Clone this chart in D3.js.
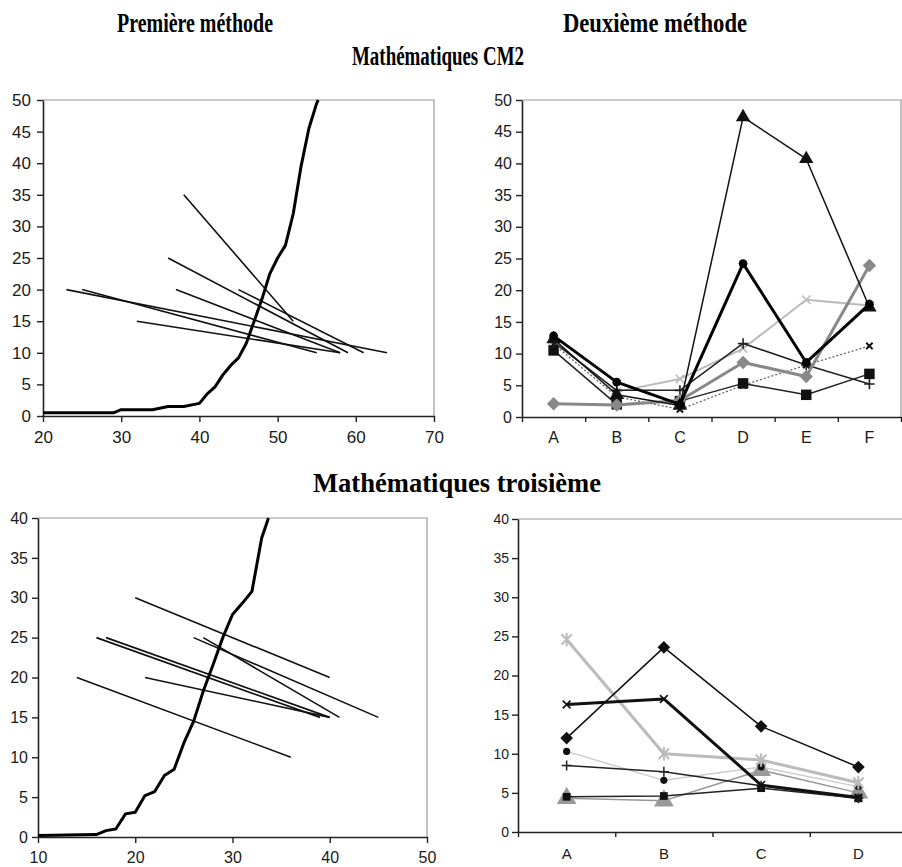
<!DOCTYPE html>
<html>
<head>
<meta charset="utf-8">
<script src="https://cdn.jsdelivr.net/npm/d3@7"></script>
<style>
  body { margin: 0; background: #fff; }
  .tick text { font-family: "Liberation Sans", Arial, sans-serif; fill: #1a1a1a; }
  .title { font-family: "Liberation Serif", "Times New Roman", serif; font-weight: bold; fill: #000; }
</style>
</head>
<body>
<script>
// ---- data ----
// top left: cumulative curve + regression segments (CM2)
var cm2Curve = [[20,0.5],[29,0.5],[30,1],[34,1],[36,1.5],[38,1.5],[40,2],[41,3.5],[42,4.6],[43,6.5],[44,8],[45,9.2],
  [46,11.5],[47,15],[48,18.5],[49,22.5],[50,25],[51,27],[52,32],[53,39.5],[54,45.5],[55,49.5],[55.2,50]];
var cm2Segments = [[38,35,52,15],[36,25,59,10],[37,20,58,10],[45,20,61,10],[23,20,64,10],[25,20,55,10],[32,15,58,10]];
var cm2XTicks = [20,30,40,50,60,70];
var cm2YTicks = [0,5,10,15,20,25,30,35,40,45,50];

// top right: series per category (CM2)
var cm2Cats = ['A','B','C','D','E','F'];
var cm2Triangle = [12.3, 3.5, 1.8, 47.3, 40.7, 17.3];
var cm2Circle   = [12.8, 5.5, 2.0, 24.2, 8.6, 17.8];
var cm2LightX   = [12.0, 4.0, 6.0, 10.8, 18.5, 17.6];
var cm2Plus     = [11.8, 4.2, 4.2, 11.6, 8.2, 5.2];
var cm2Diamond  = [2.1, 1.9, 2.6, 8.6, 6.4, 23.9];
var cm2Square   = [10.5, 2.0, 2.5, 5.3, 3.5, 6.8];
var cm2Dotted   = [11.5, 3.2, 1.2, 5.0, 8.2, 11.2];

// bottom left: cumulative curve + segments (troisième)
var troisCurve = [[10,0.2],[16,0.3],[17,0.8],[18,1],[19,2.9],[20,3.1],[21,5.2],[22,5.7],[23,7.7],[24,8.5],[25,11.8],
  [26,14.5],[27,18.3],[28,21.6],[29,25],[30,27.9],[31,29.3],[32,30.8],[33,37.5],[33.7,40]];
var troisSegments = [[20,30,40,20],[16,25,39,15],[17,25,40,15],[26,25,45,15],[27,25,41,15],[21,20,40,15],[14,20,36,10]];
var troisXTicks = [10,20,30,40,50];
var troisYTicks = [0,5,10,15,20,25,30,35,40];

// bottom right: series per category (troisième)
var troisCats = ['A','B','C','D'];
var troisDiamond  = [12.0, 23.6, 13.5, 8.3];
var troisX        = [16.3, 17.0, 6.0, 4.4];
var troisAsterisk = [24.6, 10.0, 9.2, 6.3];
var troisDot      = [10.3, 6.6, 8.3, 5.8];
var troisPlus     = [8.5, 7.7, 5.9, 4.3];
var troisSquare   = [4.5, 4.6, 5.6, 4.3];
var troisTriangle = [4.3, 4.0, 7.9, 5.0];

// marker shapes
var symPlus = { draw: function (c, s) { var r = Math.sqrt(s) / 2; c.moveTo(-r, 0); c.lineTo(r, 0); c.moveTo(0, -r); c.lineTo(0, r); } };
var symX = { draw: function (c, s) { var r = Math.sqrt(s) / 2; c.moveTo(-r, -r); c.lineTo(r, r); c.moveTo(-r, r); c.lineTo(r, -r); } };
var symAst = { draw: function (c, s) { var r = Math.sqrt(s) / 2; c.moveTo(-r, -r); c.lineTo(r, r); c.moveTo(-r, r); c.lineTo(r, -r); c.moveTo(0, -r * 1.3); c.lineTo(0, r * 1.3); } };
var symDia = { draw: function (c, s) { var r = Math.sqrt(s / 2); c.moveTo(0, -r); c.lineTo(r, 0); c.lineTo(0, r); c.lineTo(-r, 0); c.closePath(); } };

const svg = d3.select('body').append('svg').attr('width', 902).attr('height', 867);

// titles
function title(txt, x, y, len) {
  svg.append('text').attr('class', 'title').attr('x', x).attr('y', y)
    .attr('font-size', 27).attr('textLength', len).attr('lengthAdjust', 'spacingAndGlyphs').text(txt);
}
title('Première méthode', 117, 32, 156);
title('Deuxième méthode', 563, 32, 184);
title('Mathématiques CM2', 352, 65, 172);
title('Mathématiques troisième', 313, 492, 288);

function frame(xr, yr) {
  svg.append('path')
    .attr('d', 'M' + xr[0] + ',' + yr[1] + 'H' + xr[1] + 'V' + yr[0])
    .attr('fill', 'none').attr('stroke', '#999').attr('stroke-width', 1.2);
}

function styleAxis(g, fs) {
  g.select('.domain').attr('stroke', '#222').attr('stroke-width', 1.6);
  g.selectAll('.tick line').attr('stroke', '#222').attr('stroke-width', 1.4);
  g.selectAll('.tick text').attr('font-size', fs);
}

function linePanel(o) {
  const x = d3.scaleLinear().domain(o.xd).range(o.xr);
  const y = d3.scaleLinear().domain(o.yd).range(o.yr);
  frame(o.xr, o.yr);
  const gy = svg.append('g').attr('transform', 'translate(' + o.xr[0] + ',0)')
    .call(d3.axisLeft(y).tickValues(o.yt).tickSize(6).tickSizeOuter(0).tickPadding(o.ypad));
  styleAxis(gy, o.fs);
  const gx = svg.append('g').attr('transform', 'translate(0,' + o.yr[0] + ')')
    .call(d3.axisBottom(x).tickValues(o.xt).tickSize(6).tickSizeOuter(0).tickPadding(o.xpad));
  styleAxis(gx, o.fs);

  svg.append('g').selectAll('line').data(o.segs).enter().append('line')
    .attr('x1', d => x(d[0])).attr('y1', d => y(d[1]))
    .attr('x2', d => x(d[2])).attr('y2', d => y(d[3]))
    .attr('stroke', '#111').attr('stroke-width', 1.6);

  svg.append('path').datum(o.curve)
    .attr('d', d3.line().x(d => x(d[0])).y(d => y(d[1])))
    .attr('fill', 'none').attr('stroke', '#000').attr('stroke-width', 3).attr('stroke-linejoin', 'round');
}

function catPanel(o) {
  const x = d3.scaleBand().domain(o.cats).range(o.xr);
  const y = d3.scaleLinear().domain(o.yd).range(o.yr);
  const bx = d3.scaleLinear().domain([0, o.cats.length]).range(o.xr);
  frame(o.xr, o.yr);
  const gy = svg.append('g').attr('transform', 'translate(' + o.xr[0] + ',0)')
    .call(d3.axisLeft(y).tickValues(o.yt).tickSize(6).tickSizeOuter(0).tickPadding(o.ypad));
  styleAxis(gy, o.fs);
  const gt = svg.append('g').attr('transform', 'translate(0,' + o.yr[0] + ')')
    .call(d3.axisBottom(bx).ticks(o.cats.length).tickSize(5).tickSizeOuter(0).tickFormat(''));
  styleAxis(gt, o.fs);
  const gl = svg.append('g').attr('transform', 'translate(0,' + o.yr[0] + ')')
    .call(d3.axisBottom(x).tickSize(0).tickPadding(o.xpad));
  gl.select('.domain').remove();
  gl.selectAll('.tick text').attr('font-size', o.xfs);

  const cx = (d, i) => x(o.cats[i]) + x.bandwidth() / 2;
  o.series.forEach(function (s) {
    svg.append('path').datum(s.v)
      .attr('d', d3.line().x(cx).y(d => y(d)))
      .attr('fill', 'none').attr('stroke', s.stroke).attr('stroke-width', s.w)
      .attr('stroke-dasharray', s.dash || null).attr('stroke-linejoin', 'round');
    const stroked = (s.sym === symPlus || s.sym === symX || s.sym === symAst);
    svg.append('g').selectAll('path').data(s.v).enter().append('path')
      .attr('transform', (d, i) => 'translate(' + cx(d, i) + ',' + y(d) + ')')
      .attr('d', d3.symbol().type(s.sym).size(s.size))
      .attr('fill', stroked ? 'none' : s.mfill)
      .attr('stroke', stroked ? s.mfill : 'none')
      .attr('stroke-width', stroked ? (s.mw || 1.6) : 0);
  });
}

linePanel({ xd: [20, 70], xr: [43, 434], yd: [0, 50], yr: [416, 100], xt: cm2XTicks, yt: cm2YTicks,
  fs: 17, ypad: 6, xpad: 9, segs: cm2Segments, curve: cm2Curve });

catPanel({ cats: cm2Cats, xr: [522, 901], yd: [0, 50], yr: [417, 100], yt: cm2YTicks, fs: 16, xfs: 16, ypad: 4, xpad: 15,
  series: [
    { v: cm2Dotted, stroke: '#666', w: 1.3, dash: '2,2', sym: symX, size: 40, mfill: '#111', mw: 2 },
    { v: cm2LightX, stroke: '#bbb', w: 2, sym: symX, size: 70, mfill: '#bbb', mw: 1.6 },
    { v: cm2Square, stroke: '#222', w: 1.5, sym: d3.symbolSquare, size: 110, mfill: '#111' },
    { v: cm2Plus, stroke: '#222', w: 1.5, sym: symPlus, size: 110, mfill: '#222', mw: 1.6 },
    { v: cm2Diamond, stroke: '#888', w: 3, sym: symDia, size: 90, mfill: '#888' },
    { v: cm2Triangle, stroke: '#111', w: 1.5, sym: d3.symbolTriangle, size: 90, mfill: '#111' },
    { v: cm2Circle, stroke: '#000', w: 3, sym: d3.symbolCircle, size: 60, mfill: '#000' }
  ] });

linePanel({ xd: [10, 50], xr: [38, 427], yd: [0, 40], yr: [837, 518], xt: troisXTicks, yt: troisYTicks,
  fs: 16, ypad: 4, xpad: 9, segs: troisSegments, curve: troisCurve });

catPanel({ cats: troisCats, xr: [518, 907], yd: [0, 40], yr: [832, 519], yt: troisYTicks, fs: 14, xfs: 15, ypad: 3, xpad: 16,
  series: [
    { v: troisTriangle, stroke: '#999', w: 1.5, sym: d3.symbolTriangle, size: 170, mfill: '#999' },
    { v: troisDot, stroke: '#ccc', w: 1.5, sym: d3.symbolCircle, size: 40, mfill: '#111' },
    { v: troisSquare, stroke: '#222', w: 1.5, sym: d3.symbolSquare, size: 60, mfill: '#111' },
    { v: troisPlus, stroke: '#222', w: 1.5, sym: symPlus, size: 100, mfill: '#222', mw: 1.5 },
    { v: troisAsterisk, stroke: '#bbb', w: 3, sym: symAst, size: 110, mfill: '#bbb', mw: 2 },
    { v: troisX, stroke: '#111', w: 3, sym: symX, size: 60, mfill: '#111', mw: 1.6 },
    { v: troisDiamond, stroke: '#111', w: 1.5, sym: symDia, size: 80, mfill: '#111' }
  ] });
</script>
</body>
</html>
